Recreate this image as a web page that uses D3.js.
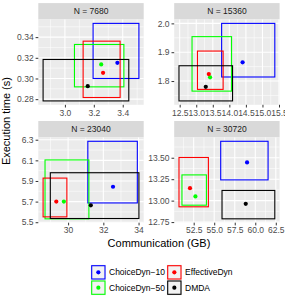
<!DOCTYPE html>
<html>
<head>
<meta charset="utf-8">
<script src="https://cdn.jsdelivr.net/npm/d3@7"></script>
<style>
  body { margin: 0; background: #fff; }
  text { font-family: "Liberation Sans", Arial, sans-serif; }
</style>
</head>
<body>
<div id="chart"></div>
<script>
const facetLabels = ["N = 7680", "N = 15360", "N = 23040", "N = 30720"];
const methods = ["ChoiceDyn\u221210", "ChoiceDyn\u221250", "EffectiveDyn", "DMDA"];

// rows = facets, columns = methods (same order as above)
const commMean = [
  [3.363, 3.251, 3.264, 3.158],
  [14.40, 13.418, 13.379, 13.288],
  [32.55, 29.76, 29.33, 31.29],
  [59.0, 52.71, 52.05, 58.84]];
const commLow = [
  [3.195, 3.066, 3.126, 2.849],
  [13.767, 12.873, 13.036, 12.479],
  [31.12, 28.69, 28.58, 28.99],
  [55.79, 51.07, 50.71, 55.95]];
const commHigh = [
  [3.512, 3.408, 3.382, 3.442],
  [15.373, 14.067, 13.812, 14.097],
  [33.93, 31.18, 29.93, 34.02],
  [61.56, 54.05, 54.29, 62.38]];
const timeMean = [
  [0.3151, 0.3136, 0.3055, 0.2926],
  [1.865, 1.813, 1.824, 1.780],
  [5.844, 5.70, 5.70, 5.664],
  [13.445, 13.049, 13.145, 12.963]];
const timeLow = [
  [0.300, 0.2919, 0.2816, 0.2783],
  [1.814, 1.765, 1.771, 1.731],
  [5.687, 5.533, 5.552, 5.536],
  [13.242, 12.947, 12.928, 12.788]];
const timeHigh = [
  [0.3533, 0.3329, 0.3361, 0.3184],
  [2.0, 1.954, 1.904, 1.853],
  [6.285, 6.104, 5.928, 5.98],
  [13.692, 13.30, 13.503, 13.119]];

const xTicks = [[3.0, 3.2, 3.4], [12.5, 13, 13.5, 14, 14.5, 15, 15.5], [30, 32, 34], [52.5, 55, 57.5, 60, 62.5]];
const yTicks = [[0.28, 0.30, 0.32, 0.34], [1.8, 1.9, 2.0], [5.5, 5.7, 5.9, 6.1, 6.3], [12.75, 13, 13.25, 13.5]];
const xDigits = [1, 1, 0, 1];
const yDigits = [2, 1, 1, 2];

const colors = ["#0000FF", "#00FF00", "#FF0000", "#000000"];

const W = 285, H = 303;
const cols = [[38.3, 143.7], [174.2, 279.6]];
const rows = [[19.5, 104.8], [137.4, 222.7]];
const stripH = 16.4;

const svg = d3.select("#chart").append("svg")
    .attr("width", W)
    .attr("height", H);

function expand([a, b]) {
  const d = (b - a) * 0.05;
  return [a - d, b + d];
}

function minorOf(ticks, dom) {
  const step = ticks[1] - ticks[0];
  const m = [ticks[0] - step / 2];
  ticks.forEach(t => m.push(t + step / 2));
  return m.filter(v => v >= dom[0] && v <= dom[1]);
}

facetLabels.forEach((label, i) => {
  const [x0, x1] = cols[i % 2];
  const [y0, y1] = rows[Math.floor(i / 2)];

  const xDom = expand([d3.min(commLow[i]), d3.max(commHigh[i])]);
  const yDom = expand([d3.min(timeLow[i]), d3.max(timeHigh[i])]);
  const x = d3.scaleLinear().domain(xDom).range([x0, x1]);
  const y = d3.scaleLinear().domain(yDom).range([y1, y0]);

  const g = svg.append("g");

  // strip
  g.append("rect")
      .attr("x", x0).attr("y", y0 - stripH)
      .attr("width", x1 - x0).attr("height", stripH)
      .attr("fill", "#D9D9D9");
  g.append("text")
      .attr("x", (x0 + x1) / 2).attr("y", y0 - stripH / 2 + 3)
      .attr("text-anchor", "middle")
      .attr("font-size", "8.5px")
      .attr("fill", "#1A1A1A")
      .text(label);

  // panel
  g.append("rect")
      .attr("x", x0).attr("y", y0)
      .attr("width", x1 - x0).attr("height", y1 - y0)
      .attr("fill", "#EBEBEB");

  const xt = xTicks[i].filter(v => v >= xDom[0] && v <= xDom[1]);
  const yt = yTicks[i].filter(v => v >= yDom[0] && v <= yDom[1]);

  const grid = g.append("g").attr("stroke", "#fff");
  grid.selectAll(".xm").data(minorOf(xTicks[i], xDom)).join("line")
      .attr("x1", d => x(d)).attr("x2", d => x(d))
      .attr("y1", y0).attr("y2", y1).attr("stroke-width", 0.55);
  grid.selectAll(".ym").data(minorOf(yTicks[i], yDom)).join("line")
      .attr("y1", d => y(d)).attr("y2", d => y(d))
      .attr("x1", x0).attr("x2", x1).attr("stroke-width", 0.55);
  grid.selectAll(".xM").data(xt).join("line")
      .attr("x1", d => x(d)).attr("x2", d => x(d))
      .attr("y1", y0).attr("y2", y1).attr("stroke-width", 1.1);
  grid.selectAll(".yM").data(yt).join("line")
      .attr("y1", d => y(d)).attr("y2", d => y(d))
      .attr("x1", x0).attr("x2", x1).attr("stroke-width", 1.1);

  // axes
  const xAxis = g.append("g")
      .attr("transform", `translate(0,${y1})`)
      .call(d3.axisBottom(x).tickValues(xt).tickSize(2.7).tickPadding(2)
        .tickFormat(d3.format(`.${xDigits[i]}f`)));
  const yAxis = g.append("g")
      .attr("transform", `translate(${x0},0)`)
      .call(d3.axisLeft(y).tickValues(yt).tickSize(2.7).tickPadding(2)
        .tickFormat(d3.format(`.${yDigits[i]}f`)));
  [xAxis, yAxis].forEach(a => {
    a.select(".domain").remove();
    a.selectAll(".tick line").attr("stroke", "#333333").attr("stroke-width", 1);
    a.selectAll(".tick text")
        .attr("fill", "#4D4D4D")
        .attr("font-size", "8.5px")
        .attr("font-family", "Liberation Sans, Arial, sans-serif");
  });

  // rectangles then points
  g.selectAll(".box").data(methods).join("rect")
      .attr("x", (d, j) => x(commLow[i][j]))
      .attr("y", (d, j) => y(timeHigh[i][j]))
      .attr("width", (d, j) => x(commHigh[i][j]) - x(commLow[i][j]))
      .attr("height", (d, j) => y(timeLow[i][j]) - y(timeHigh[i][j]))
      .attr("fill", "none")
      .attr("stroke", (d, j) => colors[j])
      .attr("stroke-width", 1.1);
  g.selectAll(".pt").data(methods).join("circle")
      .attr("cx", (d, j) => x(commMean[i][j]))
      .attr("cy", (d, j) => y(timeMean[i][j]))
      .attr("r", 2.1)
      .attr("fill", (d, j) => colors[j]);
});

// axis titles
svg.append("text")
    .attr("x", (cols[0][0] + cols[1][1]) / 2).attr("y", 247)
    .attr("text-anchor", "middle")
    .attr("font-size", "11px")
    .attr("fill", "#000")
    .text("Communication (GB)");
svg.append("text")
    .attr("transform", `translate(10,${(rows[0][0] + rows[1][1]) / 2}) rotate(-90)`)
    .attr("text-anchor", "middle")
    .attr("font-size", "11px")
    .attr("fill", "#000")
    .text("Execution time (s)");

// legend (two rows, filled column-wise)
const keyS = 15.3;
const keyX = [90.7, 166.7];
const keyY = [264.7, 280];
const legend = svg.append("g");
methods.forEach((m, j) => {
  const kx = keyX[Math.floor(j / 2)], ky = keyY[j % 2];
  legend.append("rect")
      .attr("x", kx).attr("y", ky).attr("width", keyS).attr("height", keyS)
      .attr("fill", "#F2F2F2");
  legend.append("rect")
      .attr("x", kx + 1).attr("y", ky + 1).attr("width", keyS - 2).attr("height", keyS - 2)
      .attr("fill", "none").attr("stroke", colors[j]).attr("stroke-width", 1.1);
  legend.append("circle")
      .attr("cx", kx + keyS / 2).attr("cy", ky + keyS / 2).attr("r", 2.1)
      .attr("fill", colors[j]);
  legend.append("text")
      .attr("x", kx + keyS + 3).attr("y", ky + keyS / 2 + 3)
      .attr("font-size", "8.5px")
      .attr("fill", "#000")
      .text(m);
});
</script>
</body>
</html>
